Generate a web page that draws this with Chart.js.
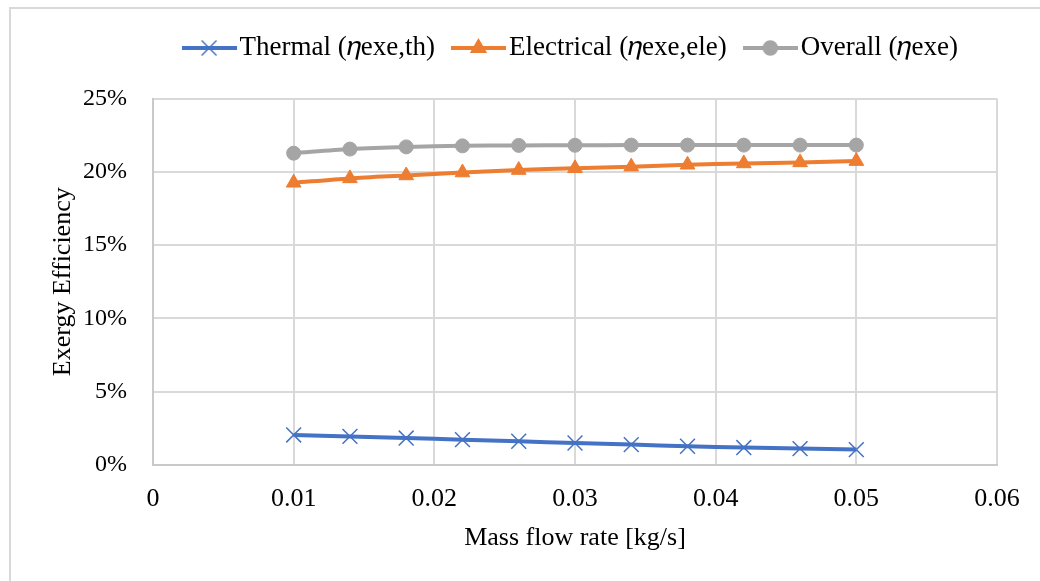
<!DOCTYPE html>
<html>
<head>
<meta charset="utf-8">
<script src="https://cdn.jsdelivr.net/npm/chart.js@4"></script>
<style>
  html, body { margin: 0; padding: 0; background: #fff; overflow: hidden; }
  #frame { position: absolute; left: 9px; top: 7px; width: 1100px; height: 640px; border: 2px solid #d9d9d9; }
  #lineChart { position: absolute; left: 0; top: 0; }
</style>
</head>
<body>
<div id="frame"></div>
<canvas id="lineChart" width="1040" height="581"></canvas>
<script>
// Mass flow rate [kg/s]
const flowRates = [0.01, 0.014, 0.018, 0.022, 0.026, 0.03, 0.034, 0.038, 0.042, 0.046, 0.05];
// Exergy efficiency [%]
const thermal = [2.05, 1.95, 1.84, 1.73, 1.62, 1.5, 1.39, 1.28, 1.19, 1.12, 1.05];
const electrical = [19.25, 19.55, 19.75, 19.95, 20.12, 20.24, 20.35, 20.48, 20.57, 20.64, 20.73];
const overall = [21.27, 21.55, 21.7, 21.77, 21.8, 21.81, 21.82, 21.82, 21.82, 21.82, 21.82];

const seriesLabels = ["Thermal (\u{1D702}exe,th)", "Electrical (\u{1D702}exe,ele)", "Overall (\u{1D702}exe)"];
const seriesColors = ["#4472C4", "#ED7D31", "#A5A5A5"];
const seriesMarkers = ["crossRot", "triangle", "circle"];
const markerRadius = { crossRot: 10.5, triangle: 8.5, circle: 7 };

const FONT = "'Liberation Serif', 'Times New Roman', serif";

// legend sample: short line with the marker in the middle
function legendSample(color, marker) {
  const c = document.createElement("canvas");
  c.width = 55;
  c.height = 24;
  const g = c.getContext("2d");
  g.strokeStyle = color;
  g.fillStyle = color;
  g.lineWidth = 4;
  g.beginPath();
  g.moveTo(0, 12);
  g.lineTo(55, 12);
  g.stroke();
  g.lineWidth = 1.5;
  Chart.helpers.drawPoint(g, { pointStyle: marker, radius: markerRadius[marker], borderWidth: 1.5, rotation: 0 }, 27.5, 12);
  return c;
}

const pointsOf = ys => flowRates.map((x, i) => ({ x: x, y: ys[i] }));

const datasets = [thermal, electrical, overall].map((ys, i) => ({
  label: seriesLabels[i],
  data: pointsOf(ys),
  borderColor: seriesColors[i],
  backgroundColor: seriesColors[i],
  borderWidth: 4,
  pointStyle: seriesMarkers[i],
  pointRadius: markerRadius[seriesMarkers[i]],
  pointBorderWidth: seriesMarkers[i] === "crossRot" ? 1.5 : 1,
  tension: 0.3,
}));

const ctx = document.getElementById("lineChart").getContext("2d");
new Chart(ctx, {
  type: "line",
  data: { datasets: datasets },
  options: {
    responsive: false,
    animation: false,
    layout: { padding: { left: 0, right: 43, top: 8, bottom: 27 } },
    plugins: {
      tooltip: { enabled: false },
      // empty subtitle only keeps a gap between the legend and the plot
      subtitle: { display: true, text: "", weight: 10, font: { size: 10 }, padding: { top: 0, bottom: 15 } },
      legend: {
        position: "top",
        fullSize: false,
        labels: {
          usePointStyle: true,
          pointStyleWidth: 34,
          padding: 26.5,
          color: "#000",
          font: { family: FONT, size: 27 },
          generateLabels: chart => chart.data.datasets.map((ds, i) => ({
            text: ds.label,
            pointStyle: legendSample(seriesColors[i], seriesMarkers[i]),
            fillStyle: seriesColors[i],
            strokeStyle: seriesColors[i],
            lineWidth: 0,
            datasetIndex: i,
          })),
        },
      },
    },
    scales: {
      x: {
        type: "linear",
        min: 0,
        max: 0.06,
        ticks: {
          stepSize: 0.01,
          padding: 19,
          color: "#000",
          font: { family: FONT, size: 26 },
          callback: v => (v === 0 ? "0" : v.toFixed(2)),
        },
        grid: { color: "#d9d9d9", lineWidth: 2, drawTicks: false },
        border: { color: "#c9c9c9", width: 2 },
        title: {
          display: true,
          text: "Mass flow rate [kg/s]",
          color: "#000",
          font: { family: FONT, size: 26 },
          padding: 0,
        },
        afterFit: scale => { scale.height = 89; },
      },
      y: {
        min: 0,
        max: 25,
        ticks: {
          stepSize: 5,
          padding: 26,
          color: "#000",
          font: { family: FONT, size: 24 },
          callback: v => v + "%",
        },
        grid: { color: "#d9d9d9", lineWidth: 2, drawTicks: false },
        border: { color: "#c9c9c9", width: 2 },
        title: {
          display: true,
          text: "Exergy Efficiency",
          color: "#000",
          font: { family: FONT, size: 26 },
          padding: { top: 48, bottom: 0 },
        },
        afterFit: scale => { scale.width = 153; },
      },
    },
  },
});
</script>
</body>
</html>
